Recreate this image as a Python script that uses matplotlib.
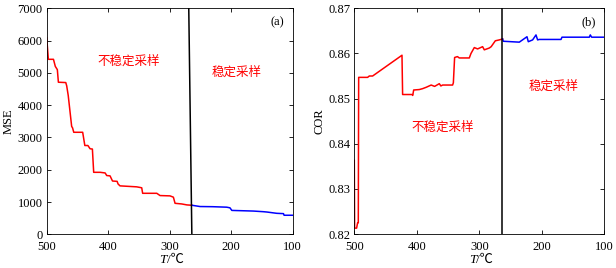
import matplotlib
matplotlib.use("Agg")
import matplotlib.pyplot as plt
import matplotlib.transforms as mtransforms

plt.rcParams['font.family'] = ['Liberation Serif', 'Noto Sans CJK SC', 'DejaVu Sans']
plt.rcParams['font.size'] = 9

# MSE panel (a)
mse_unstable_T = [500, 497.3, 489, 486, 482.7, 481, 469, 467.5, 465, 459.4, 458, 456, 441.5, 438, 433, 429.5, 425.7, 423.6,
                  413, 405, 402.4, 397, 393, 385.5, 384, 380.8, 353.7, 348, 345.5, 344, 321, 315.7, 299.5, 294, 291.3,
                  280.5, 272, 264]
mse_unstable_v = [6090, 5420, 5420, 5200, 5100, 4710, 4700, 4600, 4300, 3340, 3300, 3160, 3160, 2750, 2750, 2650, 2640, 1920,
                  1920, 1900, 1820, 1810, 1650, 1640, 1560, 1500, 1470, 1450, 1440, 1270, 1270, 1200, 1190, 1150, 960,
                  940, 910, 900]
mse_stable_T = [264, 250.7, 230, 207.3, 202, 199, 190.8, 164, 147.7, 142, 126, 115, 114, 100]
mse_stable_v = [900, 860, 855, 840, 820, 740, 735, 720, 700, 690, 650, 640, 590, 590]

# COR panel (b)
cor_unstable_T = [500, 499.5, 496.3, 494.7, 493.6, 493, 478.7, 476, 470.7, 423.7, 422.7, 407.7, 406.5, 405, 396, 390.7,
                  385, 377, 371.5, 364, 361.5, 358.7, 342.7, 341.5, 339.5, 335, 332, 316, 313.3, 308, 302.7, 294.7,
                  292, 284, 281, 274.4, 268, 262.7]
cor_unstable_v = [0.8363, 0.8213, 0.8213, 0.8225, 0.8225, 0.8547, 0.8547, 0.8550, 0.8550, 0.8596, 0.8509, 0.8509, 0.8507,
                  0.8519, 0.8520, 0.8522, 0.8525, 0.8530, 0.8527, 0.8533, 0.8528, 0.8530, 0.8530, 0.8535, 0.8591, 0.8593,
                  0.8590, 0.8590, 0.8600, 0.8613, 0.8610, 0.8615, 0.8608, 0.8612, 0.8615, 0.8628, 0.8630, 0.8632]
cor_stable_T = [262.7, 261.6, 236, 223.7, 221.6, 214.7, 209.3, 206.7, 204, 169.3, 167.7, 124, 122.4, 120.3, 100]
cor_stable_v = [0.8632, 0.8627, 0.8625, 0.8637, 0.8626, 0.8630, 0.8641, 0.8630, 0.8631, 0.8631, 0.8636, 0.8636, 0.8641,
                0.8636, 0.8636]

boundary_T = 264
x_ticks = [500, 400, 300, 200, 100]
mse_ticks = [0, 1000, 2000, 3000, 4000, 5000, 6000, 7000]
cor_ticks = [0.82, 0.83, 0.84, 0.85, 0.86, 0.87]
cor_tick_labels = ['0.82', '0.83', '0.84', '0.85', '0.86', '0.87']

fig = plt.figure(figsize=(6.16, 2.68), dpi=100)
ax1 = fig.add_axes([46.7/616, 1-234.3/268, 246/616, 226/268])
ax2 = fig.add_axes([354.3/616, 1-234.0/268, 250/616, 225.7/268])

red = '#ff0000'
blue = '#0000ff'
cjk = ['Noto Sans CJK SC']


def t_label(ax):
    # italic T followed by /℃, centred under the axes
    base = mtransforms.blended_transform_factory(ax.transAxes, fig.transFigure)
    y = 1 - 260/268
    tr1 = mtransforms.offset_copy(base, fig=fig, x=-3, y=0, units='dots')
    ax.text(0.5, y, 'T', transform=tr1, ha='right', va='center', fontsize=9.5,
            style='italic', family=['Liberation Serif'])
    ax.text(0.5, y, '/℃', transform=tr1, ha='left', va='center', fontsize=9.5,
            family=['Liberation Serif', 'Noto Sans CJK SC'])


ax1.plot(mse_unstable_T, mse_unstable_v, color=red, lw=1.1)
ax1.plot(mse_stable_T, mse_stable_v, color=blue, lw=1.1)
ax1.plot([boundary_T, boundary_T + 5], [0, 7000], color='black', lw=1.1)
ax1.set_xlim(500, 100)
ax1.set_ylim(0, 7000)
ax1.set_xticks(x_ticks)
ax1.set_yticks(mse_ticks)
ax1.set_ylabel('MSE', labelpad=2)
t_label(ax1)
ax1.text(366, 5367, '不稳定采样', color=red, ha='center', va='center', fontsize=9, family=cjk)
ax1.text(192, 5005, '稳定采样', color=red, ha='center', va='center', fontsize=9, family=cjk)
ax1.text(125.5, 6575, '(a)', ha='center', va='center', fontsize=9)

ax2.plot(cor_unstable_T, cor_unstable_v, color=red, lw=1.1)
ax2.plot(cor_stable_T, cor_stable_v, color=blue, lw=1.1)
ax2.plot([boundary_T, boundary_T], [0.82, 0.87], color='black', lw=1.1)
ax2.set_xlim(500, 100)
ax2.set_ylim(0.82, 0.87)
ax2.set_xticks(x_ticks)
ax2.set_yticks(cor_ticks)
ax2.set_yticklabels(cor_tick_labels)
ax2.set_ylabel('COR', labelpad=2)
t_label(ax2)
ax2.text(358.6, 0.8436, '不稳定采样', color=red, ha='center', va='center', fontsize=9, family=cjk)
ax2.text(180.5, 0.8527, '稳定采样', color=red, ha='center', va='center', fontsize=9, family=cjk)
ax2.text(125, 0.8669, '(b)', ha='center', va='center', fontsize=9)

for ax in (ax1, ax2):
    ax.tick_params(direction='in', top=True, right=True, length=3, width=0.6, labelsize=9)
    ax.tick_params(axis='x', pad=5)
    ax.tick_params(axis='y', pad=3)
    for s in ax.spines.values():
        s.set_linewidth(0.6)

fig.savefig('out.png', dpi=100)
